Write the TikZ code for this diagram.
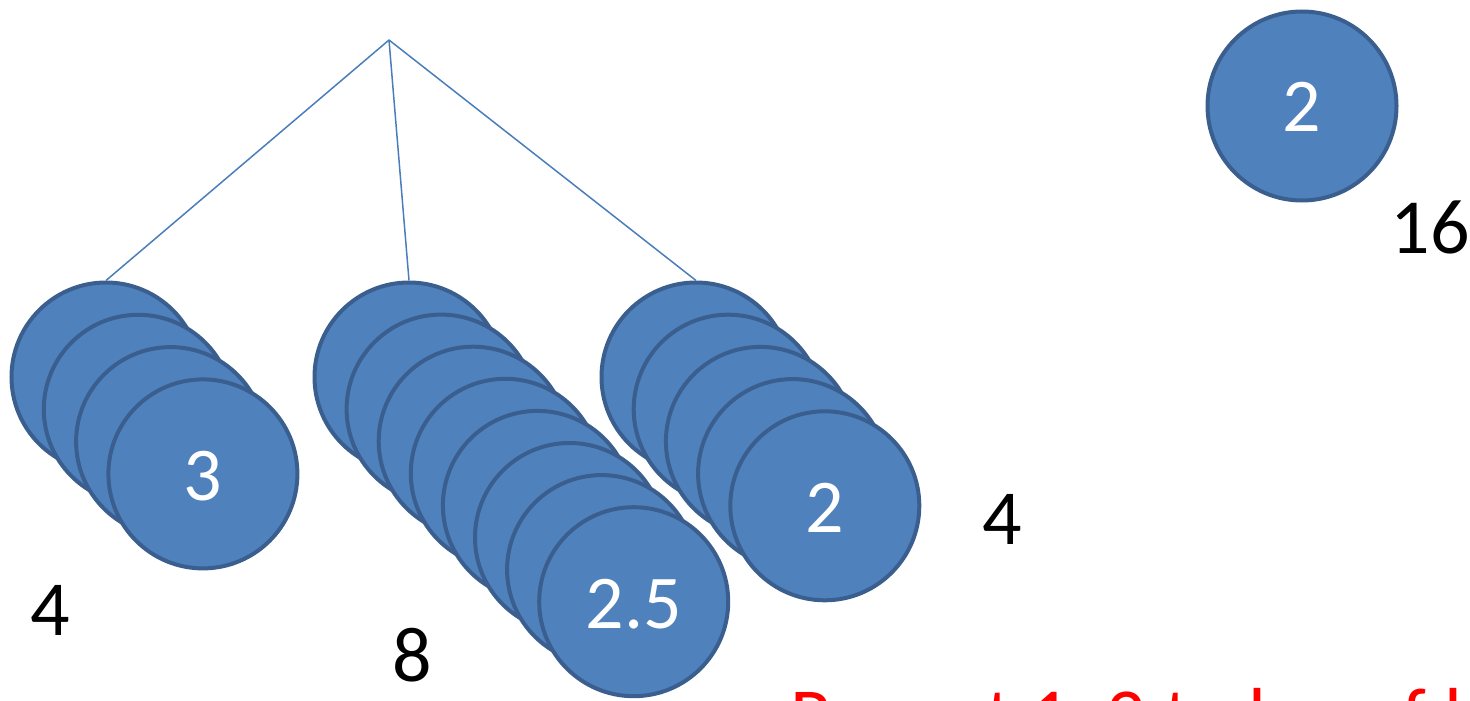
\documentclass[tikz,border=0pt]{standalone}
\usepackage{fontspec}
\setmainfont{Carlito}
\definecolor{ballfill}{HTML}{4F81BD}
\definecolor{balldraw}{HTML}{3A5F8F}
\definecolor{linkcol}{HTML}{4A7EBB}
\begin{document}
\begin{tikzpicture}[x=1pt,y=-1pt,
  ball/.style={circle,fill=ballfill,draw=balldraw,line width=4pt,minimum size=189pt,inner sep=0pt,text=white,font=\fontsize{76}{76}\selectfont},
  lbl/.style={anchor=base,font=\fontsize{78}{78}\selectfont,text=black},
  link/.style={draw=linkcol,line width=1.5pt}]
\useasboundingbox (0,0) rectangle (1470,701);
\coordinate (apex) at (389,40);
% left group
\foreach \k in {0,...,3}{
  \node[ball] (L\k) at ({106+32.3*\k},{377+32.3*\k}) {};
}
\node[anchor=base,text=white,font=\fontsize{76}{76}\selectfont] (t3) at (203,500) {3};
% middle group
\foreach \k in {0,...,7}{
  \node[ball] (M\k) at ({409+32.1*\k},{377+32.1*\k}) {};
}
\node[anchor=base,text=white,font=\fontsize{76}{76}\selectfont] (t25) at (634,628) {2.5};
% right group
\foreach \k in {0,...,4}{
  \node[ball] (R\k) at ({696+32.2*\k},{377+32.2*\k}) {};
}
\node[anchor=base,text=white,font=\fontsize{76}{76}\selectfont] (t2) at (825,532) {2};
% top right
\node[ball] (T) at (1302,106) {};
\node[anchor=base,text=white,font=\fontsize{76}{76}\selectfont] (t2b) at (1302,131) {2};
% links
\draw[link] (apex) -- (L0.north);
\draw[link] (apex) -- (M0.north);
\draw[link] (apex) -- (R0.north);
% labels
\node[lbl] (n4a) at (50,635) {4};
\node[lbl] (n8) at (412,681) {8};
\node[lbl] (n4b) at (1002,544) {4};
\node[lbl] (n16) at (1430,253) {16};
\node[anchor=base west,inner sep=0pt,text=red,font=\fontsize{78}{78}\selectfont] (rep) at (790,742) {Repeat 1, 2 to log of log n};
\end{tikzpicture}
\end{document}
